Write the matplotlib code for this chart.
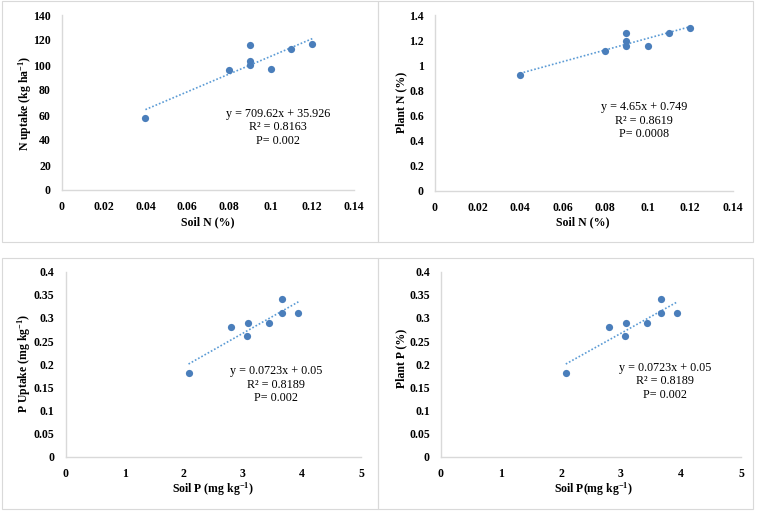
import matplotlib
matplotlib.use("Agg")
import matplotlib.pyplot as plt
from matplotlib.patches import Rectangle
import numpy as np

plt.rcParams['font.family'] = ['Liberation Serif', 'DejaVu Serif']
plt.rcParams['mathtext.fontset'] = 'custom'
plt.rcParams['mathtext.rm'] = 'Liberation Serif'
plt.rcParams['mathtext.bf'] = 'Liberation Serif:bold'
plt.rcParams['mathtext.it'] = 'Liberation Serif:italic'

# ---- data ----
soil_n = [0.04, 0.08, 0.09, 0.09, 0.09, 0.10, 0.11, 0.12]
n_uptake = [58, 96, 116, 103.5, 100.3, 96.8, 112.5, 116.5]
plant_n = [0.92, 1.11, 1.26, 1.19, 1.15, 1.15, 1.26, 1.30]
soil_p = [2.08, 2.80, 3.08, 3.07, 3.44, 3.67, 3.66, 3.94]
p_uptake = [0.18, 0.28, 0.29, 0.26, 0.29, 0.34, 0.31, 0.31]
plant_p = [0.18, 0.28, 0.29, 0.26, 0.29, 0.34, 0.31, 0.31]

fit_tl = (709.62, 35.926)
fit_tr = (4.65, 0.749)
fit_bl = (0.0723, 0.05)
fit_br = (0.0723, 0.05)

ann_tl = ["y = 709.62x + 35.926", "R² = 0.8163", "P= 0.002"]
ann_tr = ["y = 4.65x + 0.749", "R² = 0.8619", "P= 0.0008"]
ann_bl = ["y = 0.0723x + 0.05", "R² = 0.8189", "P= 0.002"]
ann_br = ["y = 0.0723x + 0.05", "R² = 0.8189", "P= 0.002"]

xt_n = [0, 0.02, 0.04, 0.06, 0.08, 0.1, 0.12, 0.14]
xt_n_lbl = ["0", "0.02", "0.04", "0.06", "0.08", "0.1", "0.12", "0.14"]
yt_tl = [0, 20, 40, 60, 80, 100, 120, 140]
yt_tr = [0, 0.2, 0.4, 0.6, 0.8, 1.0, 1.2, 1.4]
yt_tr_lbl = ["0", "0.2", "0.4", "0.6", "0.8", "1", "1.2", "1.4"]
xt_p = [0, 1, 2, 3, 4, 5]
yt_p = [0, 0.05, 0.1, 0.15, 0.2, 0.25, 0.3, 0.35, 0.4]
yt_p_lbl = ["0", "0.05", "0.1", "0.15", "0.2", "0.25", "0.3", "0.35", "0.4"]

W, H = 761, 512
fig = plt.figure(figsize=(W/100, H/100), dpi=100)

def rect(x0, y0, x1, y1):
    return [x0/W, 1 - y1/H, (x1-x0)/W, (y1-y0)/H]

# panel borders
for (x0, y0, x1, y1) in [(2, 1, 377.7, 242.3), (377.7, 1, 752.7, 242.3),
                         (2, 258.3, 377.7, 509), (377.7, 258.3, 752.7, 509)]:
    fig.patches.append(Rectangle((x0/W, 1-y1/H), (x1-x0)/W, (y1-y0)/H,
                                 transform=fig.transFigure, fill=False,
                                 edgecolor='#d9d9d9', linewidth=0.8))

pt_col = '#4a7ebb'
ln_col = '#5b9bd5'
axc = '#d9d9d9'

def panel(r, x, y, fit, xlim, ylim, xt, xtl, yt, ytl, ann, ann_xy):
    ax = fig.add_axes(rect(*r))
    ax.set_xlim(*xlim)
    ax.set_ylim(*ylim)
    ax.set_xticks(xt)
    ax.set_xticklabels(xtl)
    ax.set_yticks(yt)
    ax.set_yticklabels(ytl)
    for s in ['top', 'right']:
        ax.spines[s].set_visible(False)
    for s in ['left', 'bottom']:
        ax.spines[s].set_color(axc)
        ax.spines[s].set_linewidth(1.0)
    ax.tick_params(length=0, labelsize=8.5, pad=8)
    for lbl in ax.get_xticklabels() + ax.get_yticklabels():
        lbl.set_fontweight('bold')
    xs = np.array([min(x), max(x)])
    ax.plot(xs, fit[0]*xs + fit[1], linestyle=(0, (1, 1.2)), color=ln_col, lw=1.2)
    ax.plot(x, y, 'o', color=pt_col, markersize=5.2, markeredgewidth=0)
    ax.patch.set_alpha(0)
    for i, t in enumerate(ann):
        fig.text(ann_xy[0]/W, 1 - (ann_xy[1] + i*13.5)/H, t, ha='center', va='center', fontsize=8.7)
    return ax

panel((62, 15, 354, 190), soil_n, n_uptake, fit_tl, (0, 0.14), (0, 140),
      xt_n, xt_n_lbl, yt_tl, [str(v) for v in yt_tl], ann_tl, (278, 114))
panel((435, 15, 732.7, 190.7), soil_n, plant_n, fit_tr, (0, 0.14), (0, 1.4),
      xt_n, xt_n_lbl, yt_tr, yt_tr_lbl, ann_tr, (644, 107))
panel((65.7, 271.7, 361, 456.7), soil_p, p_uptake, fit_bl, (0, 5), (0, 0.4),
      xt_p, [str(v) for v in xt_p], yt_p, yt_p_lbl, ann_bl, (276, 371))
panel((441, 271.7, 741, 456.7), soil_p, plant_p, fit_br, (0, 5), (0, 0.4),
      xt_p, [str(v) for v in xt_p], yt_p, yt_p_lbl, ann_br, (665, 368))

def lab(x, y, t, rot=0):
    fig.text(x/W, 1 - y/H, t, ha='center', va='center', fontsize=8.5,
             fontweight='bold', rotation=rot)

lab(208, 222, "Soil N (%)")
lab(583, 222, "Soil N (%)")
lab(213, 489, r"Soil P (mg kg$^{\mathbf{-1}}$)")
lab(593, 489, r"Soil P(mg kg$^{\mathbf{-1}}$)")
lab(25, 103, r"N uptake (kg ha$^{\mathbf{-1}}$)", 90)
lab(401, 102, "Plant N (%)", 90)
lab(24, 363, r"P Uptake (mg kg$^{\mathbf{-1}}$)", 90)
lab(401, 358, "Plant P (%)", 90)

fig.savefig("out.png", dpi=100)
